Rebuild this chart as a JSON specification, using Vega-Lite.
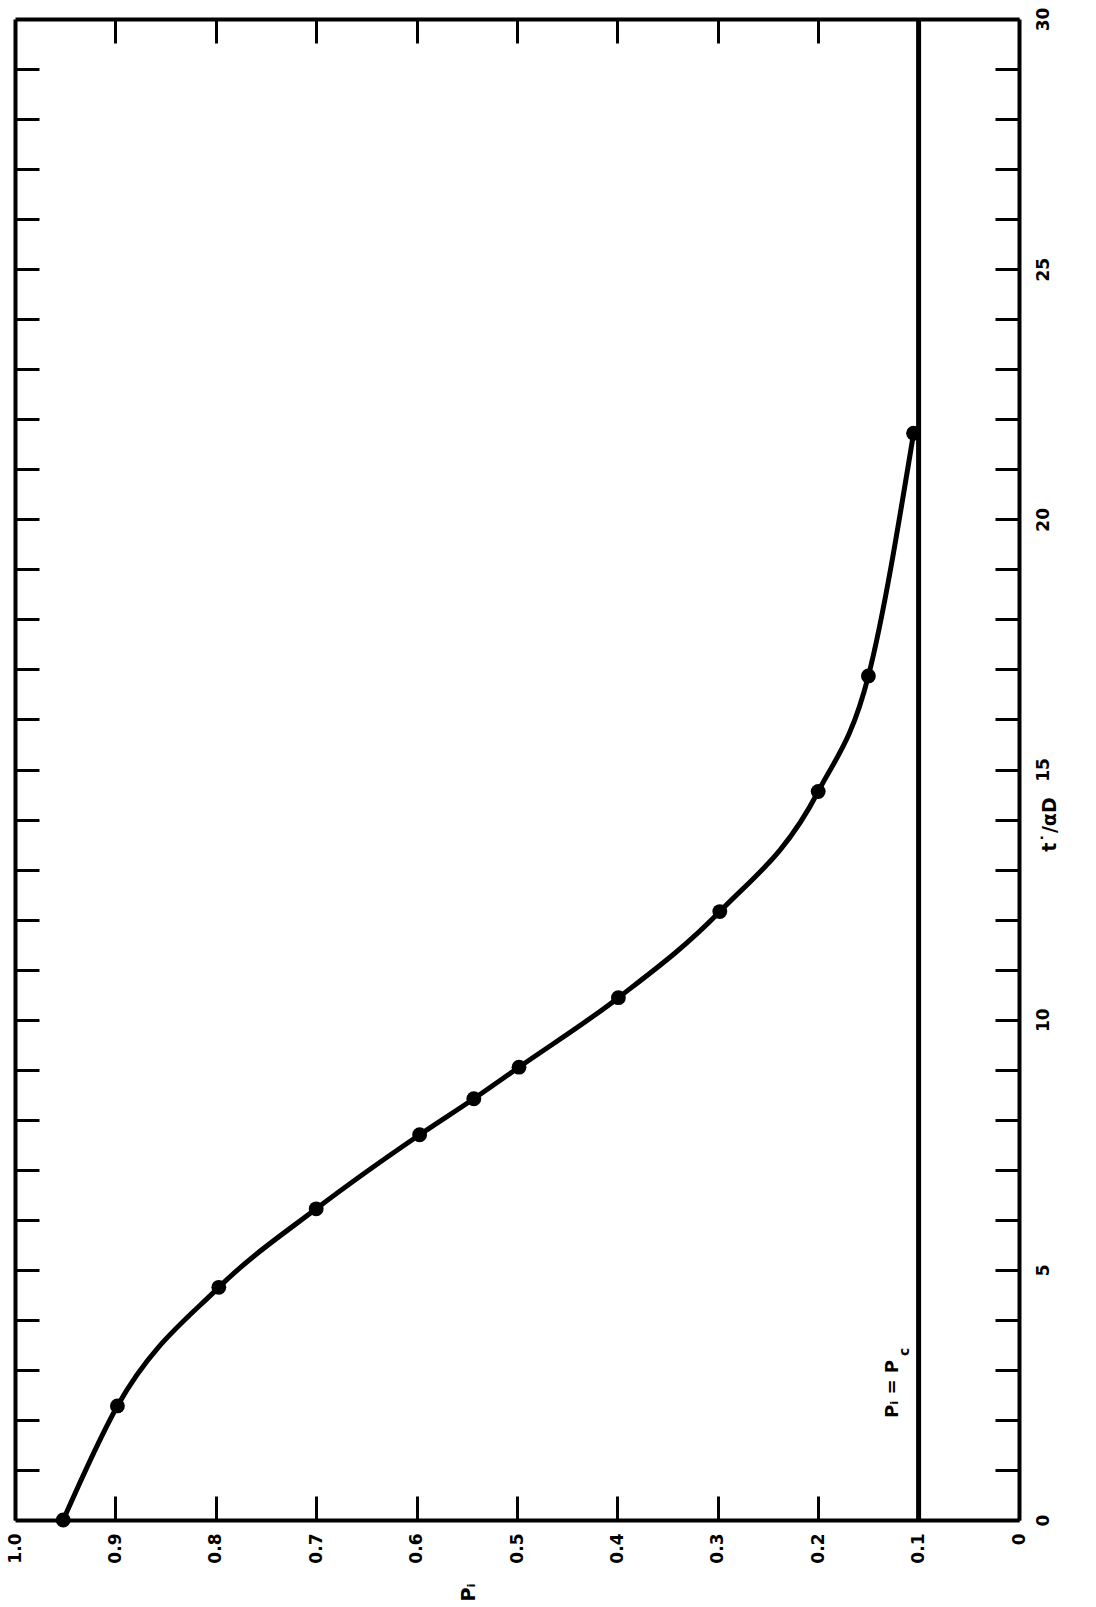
{
  "$schema": "https://vega.github.io/schema/vega-lite/v6.json",
  "width": 1004,
  "height": 1501,
  "autosize": {"type": "none"},
  "padding": {"left": 15, "top": 19, "right": 77, "bottom": 87},
  "background": "white",
  "config": {
    "view": {"stroke": null},
    "axis": {
      "grid": false,
      "domainColor": "black",
      "domainWidth": 4,
      "tickColor": "black",
      "tickWidth": 3,
      "tickSize": -24,
      "labelColor": "black",
      "titleColor": "black",
      "labelFont": "DejaVu Sans",
      "titleFont": "DejaVu Sans",
      "labelFontWeight": "bold",
      "titleFontWeight": "bold",
      "labelFontSize": 17,
      "titleFontSize": 19
    }
  },
  "datasets": {
    "curve": [
      {"P": 0.952, "t": 0.0},
      {"P": 0.898, "t": 2.28},
      {"P": 0.797, "t": 4.65},
      {"P": 0.700, "t": 6.22},
      {"P": 0.597, "t": 7.70},
      {"P": 0.543, "t": 8.42},
      {"P": 0.498, "t": 9.05},
      {"P": 0.399, "t": 10.44},
      {"P": 0.298, "t": 12.16},
      {"P": 0.200, "t": 14.56},
      {"P": 0.150, "t": 16.87},
      {"P": 0.105, "t": 21.72}
    ],
    "pc": [{"P": 0.1, "t": 0}, {"P": 0.1, "t": 30}],
    "note1": [{"P": 0.1205, "t": 2.04, "label": "Pᵢ = P"}],
    "note2": [{"P": 0.1096, "t": 3.28, "label": "c"}]
  },
  "layer": [
    {
      "data": {"name": "curve"},
      "mark": {"type": "line", "interpolate": "monotone", "color": "black", "strokeWidth": 5},
      "encoding": {
        "x": {
          "field": "P", "type": "quantitative",
          "scale": {"domain": [0, 1], "reverse": true, "nice": false, "zero": false},
          "axis": {
            "orient": "bottom",
            "values": [0, 0.1, 0.2, 0.3, 0.4, 0.5, 0.6, 0.7, 0.8, 0.9, 1.0],
            "labelExpr": "datum.value === 0 ? '0' : format(datum.value, '.1f')",
            "labelAngle": 270,
            "labelAlign": "right",
            "labelBaseline": "middle",
            "labelPadding": 37,
            "labelFlush": false,
            "labelOverlap": false,
            "title": "Pᵢ",
            "titleAngle": 270,
            "titleAlign": "center",
            "titleBaseline": "middle",
            "titleX": 453,
            "titleY": 72
          }
        },
        "y": {
          "field": "t", "type": "quantitative",
          "scale": {"domain": [0, 30], "nice": false, "zero": false},
          "axis": {
            "orient": "right",
            "values": [0,1,2,3,4,5,6,7,8,9,10,11,12,13,14,15,16,17,18,19,20,21,22,23,24,25,26,27,28,29,30],
            "labelExpr": "datum.value % 5 === 0 ? datum.label : ''",
            "labelAngle": 270,
            "labelAlign": "center",
            "labelBaseline": "top",
            "labelPadding": 40,
            "labelFlush": false,
            "labelOverlap": false,
            "title": "t˙/αD",
            "titleAngle": 270,
            "titleAlign": "center",
            "titleBaseline": "middle",
            "titleX": 30,
            "titleY": 805
          }
        },
        "order": {"field": "t", "type": "quantitative"}
      }
    },
    {
      "data": {"name": "curve"},
      "mark": {"type": "circle", "size": 220, "color": "black", "opacity": 1},
      "encoding": {
        "x": {
          "field": "P", "type": "quantitative",
          "axis": {
            "orient": "top",
            "values": [0.1, 0.2, 0.3, 0.4, 0.5, 0.6, 0.7, 0.8, 0.9],
            "labels": false,
            "title": null
          }
        },
        "y": {
          "field": "t", "type": "quantitative",
          "axis": {
            "orient": "left",
            "values": [1,2,3,4,5,6,7,8,9,10,11,12,13,14,15,16,17,18,19,20,21,22,23,24,25,26,27,28,29],
            "labels": false,
            "title": null
          }
        }
      }
    },
    {
      "data": {"name": "pc"},
      "mark": {"type": "line", "color": "black", "strokeWidth": 5},
      "encoding": {
        "x": {"field": "P", "type": "quantitative", "axis": null},
        "y": {"field": "t", "type": "quantitative", "axis": null}
      }
    },
    {
      "data": {"name": "note1"},
      "mark": {"type": "text", "angle": 270, "align": "left", "baseline": "alphabetic", "font": "DejaVu Sans", "fontWeight": "bold", "fontSize": 18, "color": "black"},
      "encoding": {
        "x": {"field": "P", "type": "quantitative", "axis": null},
        "y": {"field": "t", "type": "quantitative", "axis": null},
        "text": {"field": "label"}
      }
    },
    {
      "data": {"name": "note2"},
      "mark": {"type": "text", "angle": 270, "align": "left", "baseline": "alphabetic", "font": "DejaVu Sans", "fontWeight": "bold", "fontSize": 14, "color": "black"},
      "encoding": {
        "x": {"field": "P", "type": "quantitative", "axis": null},
        "y": {"field": "t", "type": "quantitative", "axis": null},
        "text": {"field": "label"}
      }
    }
  ],
  "resolve": {"axis": {"x": "independent", "y": "independent"}}
}
